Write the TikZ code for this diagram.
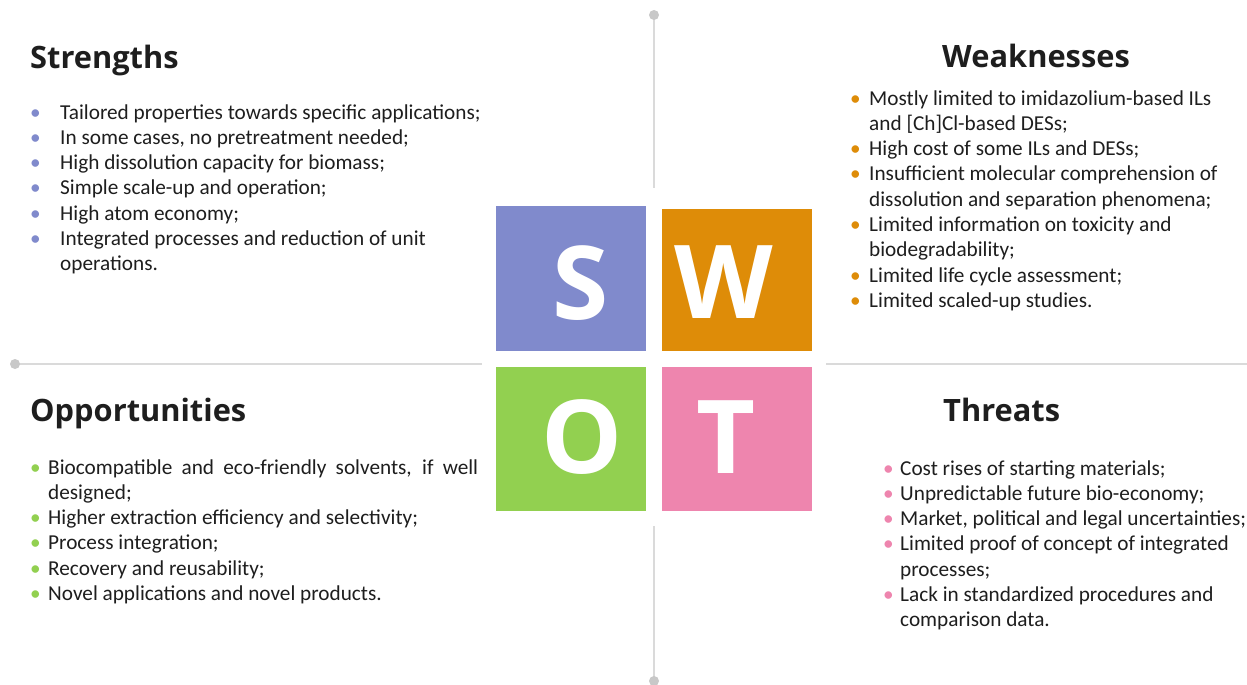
\documentclass[tikz,border=0pt]{standalone}
\usepackage{fontspec}
\usepackage{array}
\setmainfont{Carlito}
\newfontfamily\headfont{Open Sans}
\definecolor{scol}{HTML}{808ACC}
\definecolor{wcol}{HTML}{DE8C08}
\definecolor{ocol}{HTML}{92D050}
\definecolor{tcol}{HTML}{EE85AE}
\definecolor{linec}{HTML}{DADADA}
\definecolor{dotc}{HTML}{C8C8C8}
\definecolor{txt}{HTML}{1E1E1E}
\begin{document}
\begin{tikzpicture}[x=1pt,y=-1pt,
  axisline/.style={draw=linec,line width=2pt},
  swotbox/.style={draw=none,inner sep=0pt,minimum width=150pt,minimum height=145pt},
  letter/.style={text=white,inner sep=0pt,font=\headfont\bfseries\fontsize{102}{102}\selectfont},
  heading/.style={anchor=base west,inner sep=0pt,text=txt,font=\headfont\bfseries\fontsize{30.8}{36}\selectfont},
  list/.style={anchor=base west,inner sep=0pt,text=txt,font=\fontsize{21.25}{25.3}\selectfont}]
\useasboundingbox (0,0) rectangle (1247,685);
\fill[white] (0,0) rectangle (1247,685);
% axes
\coordinate (vt) at (654,15);
\coordinate (vb) at (654,681);
\coordinate (hl) at (15,364);
\coordinate (hr) at (1247,364);
\draw[axisline] (vt) -- (vb);
\draw[axisline] (hl) -- (hr);
\fill[dotc] (vt) circle[radius=5pt];
\fill[dotc] (vb) circle[radius=5pt];
\fill[dotc] (hl) circle[radius=5pt];
\fill[white] (482,188) rectangle (826,526);
% boxes
\node[swotbox,fill=scol,minimum height=145pt] (S) at (571,278.5) {};
\node[swotbox,fill=wcol,minimum width=150pt,minimum height=142pt] (W) at (737,280) {};
\node[swotbox,fill=ocol,minimum height=144pt] (O) at (571,439) {};
\node[swotbox,fill=tcol,minimum width=150pt,minimum height=144pt] (T) at (737,439) {};
\node[letter] (Sl) at (581,283) {S};
\node[letter] (Wl) at (724,282) {W};
\node[letter] (Ol) at (582,437) {O};
\node[letter] (Tl) at (726,437) {T};
% headings
\node[heading] (Sh) at (30,68) {Strengths};
\node[heading] (Wh) at (942,67) {Weaknesses};
\node[heading] (Oh) at (30,421) {Opportunities};
\node[heading] (Th) at (943,421) {Threats};
% lists
\node[list] (Slist) at (30,119) {\begin{tabular}[t]{@{}p{30pt}@{}l@{}}
\textcolor{scol}{•} & Tailored properties towards specific applications;\\
\textcolor{scol}{•} & In some cases, no pretreatment needed;\\
\textcolor{scol}{•} & High dissolution capacity for biomass;\\
\textcolor{scol}{•} & Simple scale-up and operation;\\
\textcolor{scol}{•} & High atom economy;\\
\textcolor{scol}{•} & Integrated processes and reduction of unit\\
 & operations.
\end{tabular}};
\node[list] (Wlist) at (850,105) {\begin{tabular}[t]{@{}p{19pt}@{}l@{}}
\textcolor{wcol}{•} & Mostly limited to imidazolium-based ILs\\
 & and [Ch]Cl-based DESs;\\
\textcolor{wcol}{•} & High cost of some ILs and DESs;\\
\textcolor{wcol}{•} & Insufficient molecular comprehension of\\
 & dissolution and separation phenomena;\\
\textcolor{wcol}{•} & Limited information on toxicity and\\
 & biodegradability;\\
\textcolor{wcol}{•} & Limited life cycle assessment;\\
\textcolor{wcol}{•} & Limited scaled-up studies.
\end{tabular}};
\node[list] (Olist) at (30,474) {\begin{tabular}[t]{@{}p{18pt}@{}p{430pt}@{}}
\textcolor{ocol}{•} & Biocompatible and eco-friendly solvents, if well\linebreak designed;\\
\textcolor{ocol}{•} & Higher extraction efficiency and selectivity;\\
\textcolor{ocol}{•} & Process integration;\\
\textcolor{ocol}{•} & Recovery and reusability;\\
\textcolor{ocol}{•} & Novel applications and novel products.
\end{tabular}};
\node[list] (Tlist) at (883,475) {\begin{tabular}[t]{@{}p{17pt}@{}l@{}}
\textcolor{tcol}{•} & Cost rises of starting materials;\\
\textcolor{tcol}{•} & Unpredictable future bio-economy;\\
\textcolor{tcol}{•} & Market, political and legal uncertainties;\\
\textcolor{tcol}{•} & Limited proof of concept of integrated\\
 & processes;\\
\textcolor{tcol}{•} & Lack in standardized procedures and\\
 & comparison data.
\end{tabular}};
\end{tikzpicture}
\end{document}
